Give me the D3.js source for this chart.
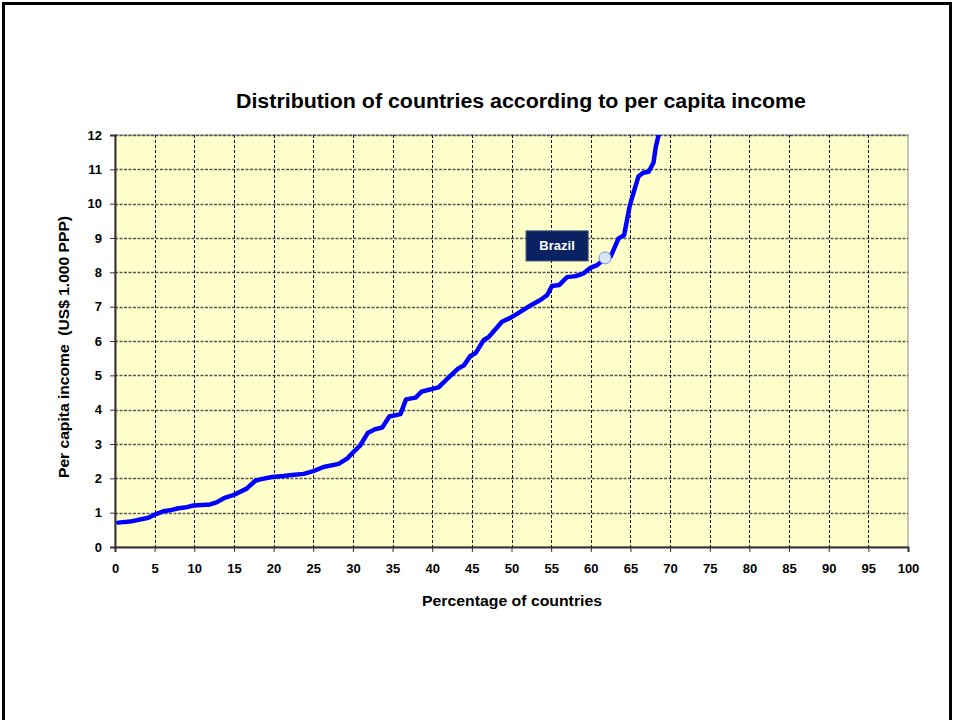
<!doctype html>
<meta charset='utf-8' />
<script src='https://cdn.jsdelivr.net/npm/d3@7'></script>
<style>
    body { margin: 0; background: #fff; }
    text { font-family: 'Liberation Sans', Arial, sans-serif; font-weight: bold; }
</style>
<svg></svg>
<script>
    var width = 954,
        height = 720,
        margin = { left: 115, right: 46, top: 135, bottom: 173 }

    // percentage of countries (x) and per capita income in US$ 1.000 PPP (y)
    var pct = [0.4, 1.9, 4.2, 5.05, 6.1, 7.15, 8.0, 9.05, 9.9, 12.0, 12.8, 13.9, 14.9, 16.6, 17.7, 18.3,
        19.8, 21.25, 22.3, 23.8, 25.0, 26.3, 28.2, 29.3, 29.9, 30.9, 31.9, 32.8, 33.7, 34.6, 36.0, 36.7,
        37.9, 38.7, 40.8, 41.9, 43.3, 44.0, 44.8, 45.45, 46.5, 47.1, 48.8, 49.9, 50.9, 52.5, 53.7, 54.5,
        55.1, 56.0, 57.0, 58.1, 59.1, 60.0, 60.8, 61.8, 62.5, 63.5, 64.2, 64.9, 65.3, 66.0, 66.6, 67.3,
        67.9, 68.2, 68.6, 69.0]
    var income = [0.71, 0.74, 0.85, 0.95, 1.04, 1.08, 1.13, 1.16, 1.21, 1.24, 1.30, 1.44, 1.51, 1.70, 1.93, 1.97,
        2.04, 2.07, 2.10, 2.13, 2.21, 2.33, 2.42, 2.58, 2.73, 2.95, 3.33, 3.43, 3.48, 3.80, 3.87, 4.30,
        4.35, 4.53, 4.65, 4.90, 5.20, 5.29, 5.56, 5.64, 6.03, 6.11, 6.56, 6.68, 6.82, 7.05, 7.20, 7.34,
        7.60, 7.63, 7.86, 7.89, 7.97, 8.14, 8.21, 8.40, 8.46, 8.99, 9.08, 9.93, 10.25, 10.79, 10.90, 10.93,
        11.19, 11.66, 12.05, 12.6]

    var xTicks = d3.range(0, 101, 5)
    var yTicks = d3.range(0, 13, 1)

    var highlight = { name: 'Brazil', pct: 61.8, income: 8.42 }

    var title = 'Distribution of countries according to per capita income',
        xTitle = 'Percentage of countries',
        yTitle = 'Per capita income  (US$ 1.000 PPP)'

    var svg = d3.select('svg')
        .attr('width', width)
        .attr('height', height)

    // slide frame
    svg.append('path')
        .attr('d', 'M3.5,' + (height + 5) + 'V3.5H950.5V' + (height + 5))
        .style('fill', 'none')
        .style('stroke', '#000')
        .style('stroke-width', 3)

    var x = d3.scaleLinear().domain([0, 100]).range([margin.left, width - margin.right])
    var y = d3.scaleLinear().domain([0, 12]).range([height - margin.bottom, margin.top])

    var plotW = x(100) - x(0),
        plotH = y(0) - y(12)

    svg.append('rect')
        .attr('x', x(0))
        .attr('y', y(12))
        .attr('width', plotW)
        .attr('height', plotH)
        .style('fill', '#ffffcc')
        .style('stroke', '#8c8c8c')
        .style('stroke-width', 1)

    // grid
    svg.append('g')
        .selectAll('line')
        .data(yTicks.filter(d => d > 0))
        .enter()
        .append('line')
        .attr('x1', x(0))
        .attr('x2', x(100))
        .attr('y1', d => Math.round(y(d)) + 0.5)
        .attr('y2', d => Math.round(y(d)) + 0.5)
        .style('stroke', '#555')
        .style('stroke-width', 1.5)
        .style('stroke-dasharray', '3,1.5')

    svg.append('g')
        .selectAll('line')
        .data(xTicks.filter(d => d > 0 && d < 100))
        .enter()
        .append('line')
        .attr('x1', d => Math.round(x(d)) + 0.5)
        .attr('x2', d => Math.round(x(d)) + 0.5)
        .attr('y1', y(12))
        .attr('y2', y(0))
        .style('stroke', '#111')
        .style('stroke-width', 1)
        .style('stroke-dasharray', '3,2')

    // axes
    var xAxis = svg.append('g')
        .attr('transform', 'translate(0,' + y(0) + ')')
        .call(d3.axisBottom(x).tickValues(xTicks).tickSize(5).tickPadding(12))
    var yAxis = svg.append('g')
        .attr('transform', 'translate(' + x(0) + ',0)')
        .call(d3.axisLeft(y).tickValues(yTicks).tickSize(5).tickPadding(8))

    ;[xAxis, yAxis].forEach(a => {
        a.select('.domain').style('stroke', '#333').style('stroke-width', 2)
        a.selectAll('.tick line').style('stroke', '#333')
        a.selectAll('.tick text')
            .style('font-size', '13px')
            .style('font-family', "'Liberation Sans', Arial, sans-serif")
            .style('font-weight', 'bold')
            .style('fill', '#000')
    })

    // curve
    var data = pct.map((p, i) => ({ p: p, v: income[i] }))

    svg.append('clipPath')
        .attr('id', 'clip')
        .append('rect')
        .attr('x', x(0))
        .attr('y', y(12))
        .attr('width', plotW)
        .attr('height', plotH)

    svg.append('path')
        .datum(data)
        .attr('clip-path', 'url(#clip)')
        .attr('d', d3.line().x(d => x(d.p)).y(d => y(d.v)).curve(d3.curveLinear))
        .style('fill', 'none')
        .style('stroke', '#0000ff')
        .style('stroke-width', 4.5)
        .style('stroke-linejoin', 'round')
        .style('stroke-linecap', 'round')

    // Brazil marker and label
    svg.append('circle')
        .attr('cx', x(highlight.pct))
        .attr('cy', y(highlight.income))
        .attr('r', 6)
        .style('fill', '#dce6f5')
        .style('stroke', '#6f93ea')
        .style('stroke-width', 1)

    var lx = x(highlight.pct) - 79,
        ly = y(highlight.income) - 27
    svg.append('rect')
        .attr('x', lx)
        .attr('y', ly)
        .attr('width', 62)
        .attr('height', 30)
        .style('fill', '#0b2262')
        .style('stroke', '#3a4a70')
        .style('stroke-width', 1)
    svg.append('text')
        .attr('x', lx + 31)
        .attr('y', ly + 19.5)
        .attr('text-anchor', 'middle')
        .attr('font-size', 13)
        .style('fill', '#fff')
        .text(highlight.name)

    // titles
    svg.append('text')
        .attr('x', 236)
        .attr('y', 108)
        .attr('font-size', 20)
        .attr('textLength', 570)
        .attr('lengthAdjust', 'spacingAndGlyphs')
        .text(title)

    svg.append('text')
        .attr('x', 422)
        .attr('y', 606)
        .attr('font-size', 14)
        .attr('textLength', 180)
        .attr('lengthAdjust', 'spacingAndGlyphs')
        .text(xTitle)

    svg.append('text')
        .attr('transform', 'translate(69,478) rotate(-90)')
        .attr('font-size', 14)
        .attr('textLength', 262)
        .attr('lengthAdjust', 'spacingAndGlyphs')
        .style('white-space', 'pre')
        .text(yTitle)
</script>
